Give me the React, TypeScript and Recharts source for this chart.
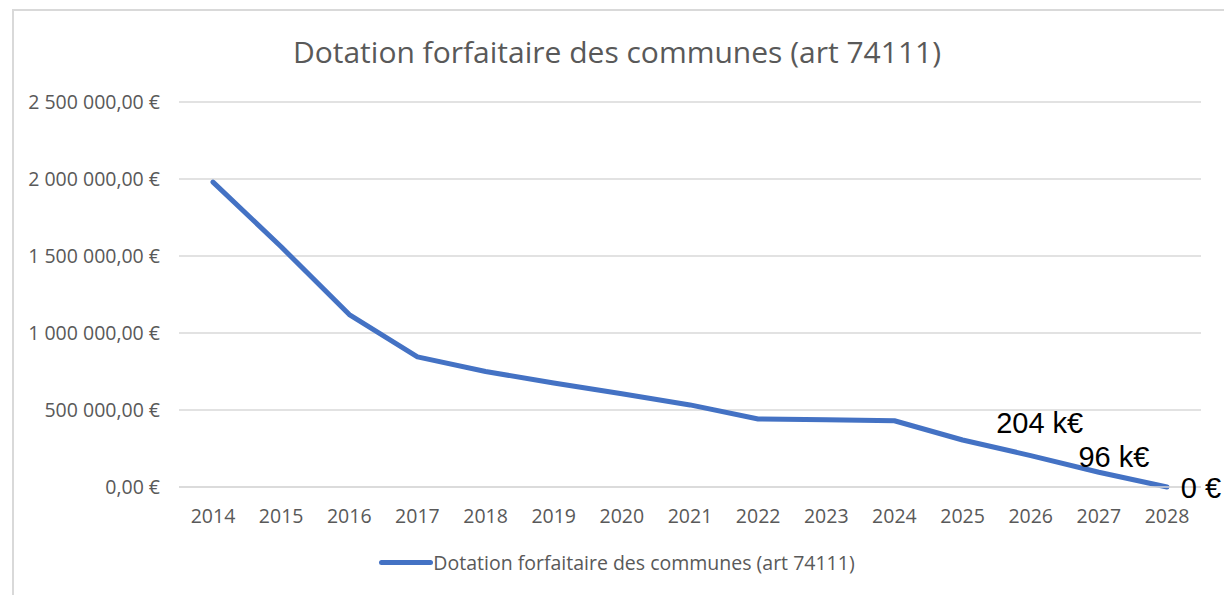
import { CartesianGrid, LabelList, Legend, Line, LineChart, XAxis, YAxis } from "recharts";

const years = ["2014", "2015", "2016", "2017", "2018", "2019", "2020", "2021", "2022", "2023", "2024", "2025", "2026", "2027", "2028"];
const dotation = [1980000, 1560000, 1120000, 845000, 750000, 675000, 605000, 533000, 442000, 437000, 430000, 305000, 204000, 96000, 0];
const yTicks = [0, 500000, 1000000, 1500000, 2000000, 2500000];
const annotatedYears = ["2026", "2027", "2028"];
const annotationTexts = ["204 k€", "96 k€", "0 €"];

const SERIES_NAME = "Dotation forfaitaire des communes (art 74111)";
const BLUE = "#4472C4";
const GREY_TEXT = "#595959";
const FONT = "'Open Sans', sans-serif";
const TICK_SIZE = 19.5;

// where each annotation sits relative to its point
const annotationOffsets = [
  { dx: 9, dy: -33 },
  { dx: 15, dy: -15 },
  { dx: 34, dy: 1 },
];

const data = years.map((year, i) => ({ year, value: dotation[i] }));

function formatEuro(value: number) {
  const int = Math.round(value).toString().replace(/\B(?=(\d{3})+(?!\d))/g, " ");
  return `${int},00 €`;
}

function AnnotationLabel(props: any) {
  const { x, y, index } = props;
  const k = annotatedYears.indexOf(years[index]);
  if (k < 0) return null;
  const off = annotationOffsets[k];
  return (
    <text
      x={x + off.dx}
      y={y + off.dy}
      textAnchor="middle"
      dominantBaseline="central"
      fontFamily="'Liberation Sans', Arial, sans-serif"
      fontSize={29}
      fill="#000"
    >
      {annotationTexts[k]}
    </text>
  );
}

function LegendContent() {
  return (
    <div style={{ display: "flex", justifyContent: "center", alignItems: "center", fontFamily: FONT, fontSize: TICK_SIZE, color: GREY_TEXT }}>
      <span style={{ display: "inline-block", width: 54, height: 5, borderRadius: 3, background: BLUE }} />
      <span>{SERIES_NAME}</span>
    </div>
  );
}

export default function App() {
  return (
    <div style={{ position: "absolute", left: 0, top: 0, width: 1224, height: 595, background: "#fff", overflow: "hidden" }}>
      <div
        style={{
          position: "absolute",
          left: 12,
          top: 9,
          width: 1240,
          height: 620,
          border: "2px solid #d9d9d9",
          boxSizing: "border-box",
        }}
      />
      <div
        style={{
          position: "absolute",
          left: 0,
          top: 31,
          width: 1234,
          textAlign: "center",
          fontFamily: FONT,
          fontSize: 30,
          color: GREY_TEXT,
        }}
      >
        {SERIES_NAME}
      </div>
      <LineChart width={1224} height={595} data={data} margin={{ top: 102, right: 23, bottom: 51, left: 0 }}>
        <CartesianGrid vertical={false} stroke="#d9d9d9" strokeWidth={1.5} />
        <XAxis
          dataKey="year"
          padding={{ left: 34, right: 34 }}
          axisLine={{ stroke: "#d9d9d9", strokeWidth: 1.5 }}
          tickLine={false}
          tickMargin={16}
          height={30}
          tick={{ fontFamily: FONT, fontSize: TICK_SIZE, fill: GREY_TEXT }}
          interval={0}
        />
        <YAxis
          domain={[0, 2500000]}
          ticks={yTicks}
          width={179}
          axisLine={false}
          tickLine={false}
          tickMargin={13}
          tickFormatter={formatEuro}
          tick={{ fontFamily: FONT, fontSize: TICK_SIZE, fill: GREY_TEXT }}
        />
        <Legend
          verticalAlign="bottom"
          content={<LegendContent />}
          wrapperStyle={{ left: 0, width: 1234, top: 549 }}
        />
        <Line
          type="linear"
          dataKey="value"
          name={SERIES_NAME}
          stroke={BLUE}
          strokeWidth={5}
          strokeLinecap="round"
          strokeLinejoin="round"
          dot={false}
          activeDot={false}
          isAnimationActive={false}
        >
          <LabelList dataKey="value" content={<AnnotationLabel />} />
        </Line>
      </LineChart>
    </div>
  );
}
